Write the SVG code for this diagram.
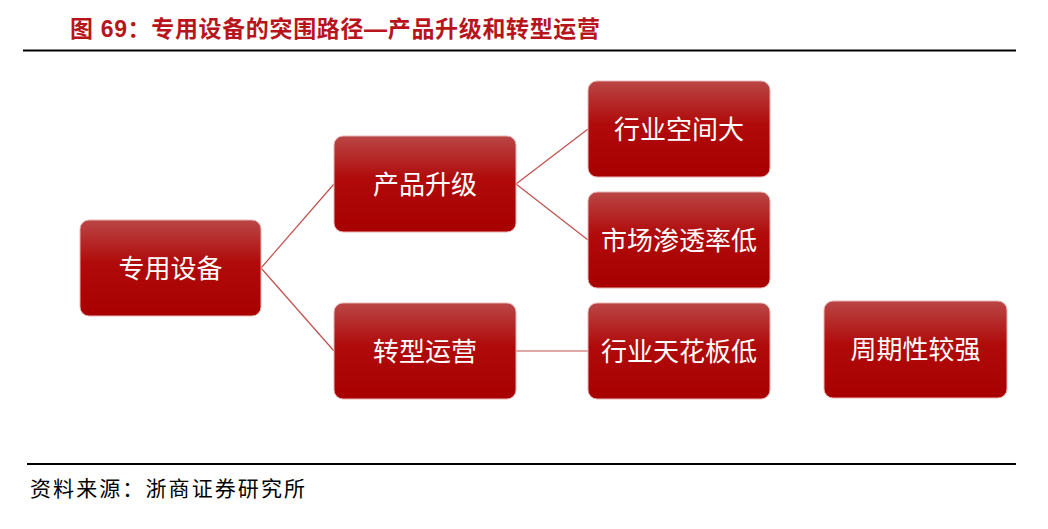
<svg xmlns="http://www.w3.org/2000/svg" width="1048" height="529" viewBox="0 0 1048 529">
<defs>
<linearGradient id="g" x1="0" y1="0" x2="0" y2="1">
<stop offset="0" stop-color="#BA4646"/>
<stop offset="0.45" stop-color="#B00A0A"/>
<stop offset="1" stop-color="#A80000"/>
</linearGradient>
<style>
.box{fill:url(#g);stroke:#E8B4B4;stroke-width:1}
.lbl{fill:#FFFFFF;font-family:"Noto Sans CJK SC",sans-serif;font-size:26px;text-anchor:middle;dominant-baseline:central}
.conn{stroke:#C0504D;stroke-width:1.2;fill:none}
</style>
</defs>
<rect width="1048" height="529" fill="#FFFFFF"/>
<text x="70" y="37" font-family="'Liberation Sans','Noto Sans CJK SC',sans-serif" font-size="23" font-weight="bold" fill="#B8141C" textLength="530" lengthAdjust="spacing">图 69：专用设备的突围路径—产品升级和转型运营</text>
<line x1="23" y1="50.5" x2="1016" y2="50.5" stroke="#000" stroke-width="2"/>
<g id="connectors">
<line class="conn" x1="261" y1="268" x2="334" y2="184"/>
<line class="conn" x1="261" y1="268" x2="334" y2="351"/>
<line class="conn" x1="516" y1="184" x2="588" y2="129"/>
<line class="conn" x1="516" y1="184" x2="588" y2="240"/>
<line class="conn" x1="516" y1="351" x2="588" y2="351"/>
</g>
<g id="n1"><rect class="box" x="80" y="220" width="181" height="96" rx="9"/><text class="lbl" x="170.5" y="266">专用设备</text></g>
<g id="n2"><rect class="box" x="334" y="136" width="182" height="96" rx="9"/><text class="lbl" x="425" y="182">产品升级</text></g>
<g id="n3"><rect class="box" x="334" y="303" width="182" height="96" rx="9"/><text class="lbl" x="425" y="349">转型运营</text></g>
<g id="n4"><rect class="box" x="588" y="81" width="182" height="96" rx="9"/><text class="lbl" x="679" y="127">行业空间大</text></g>
<g id="n5"><rect class="box" x="588" y="192" width="182" height="96" rx="9"/><text class="lbl" x="679" y="238">市场渗透率低</text></g>
<g id="n6"><rect class="box" x="588" y="303" width="182" height="96" rx="9"/><text class="lbl" x="679" y="349">行业天花板低</text></g>
<g id="n7"><rect class="box" x="824" y="301" width="183" height="97" rx="9"/><text class="lbl" x="915.5" y="347">周期性较强</text></g>
<line x1="27" y1="464" x2="1016" y2="464" stroke="#000" stroke-width="2"/>
<text x="30" y="496" font-family="'Noto Sans CJK SC',sans-serif" font-size="21" fill="#000" textLength="275" lengthAdjust="spacing">资料来源：浙商证券研究所</text>
</svg>
